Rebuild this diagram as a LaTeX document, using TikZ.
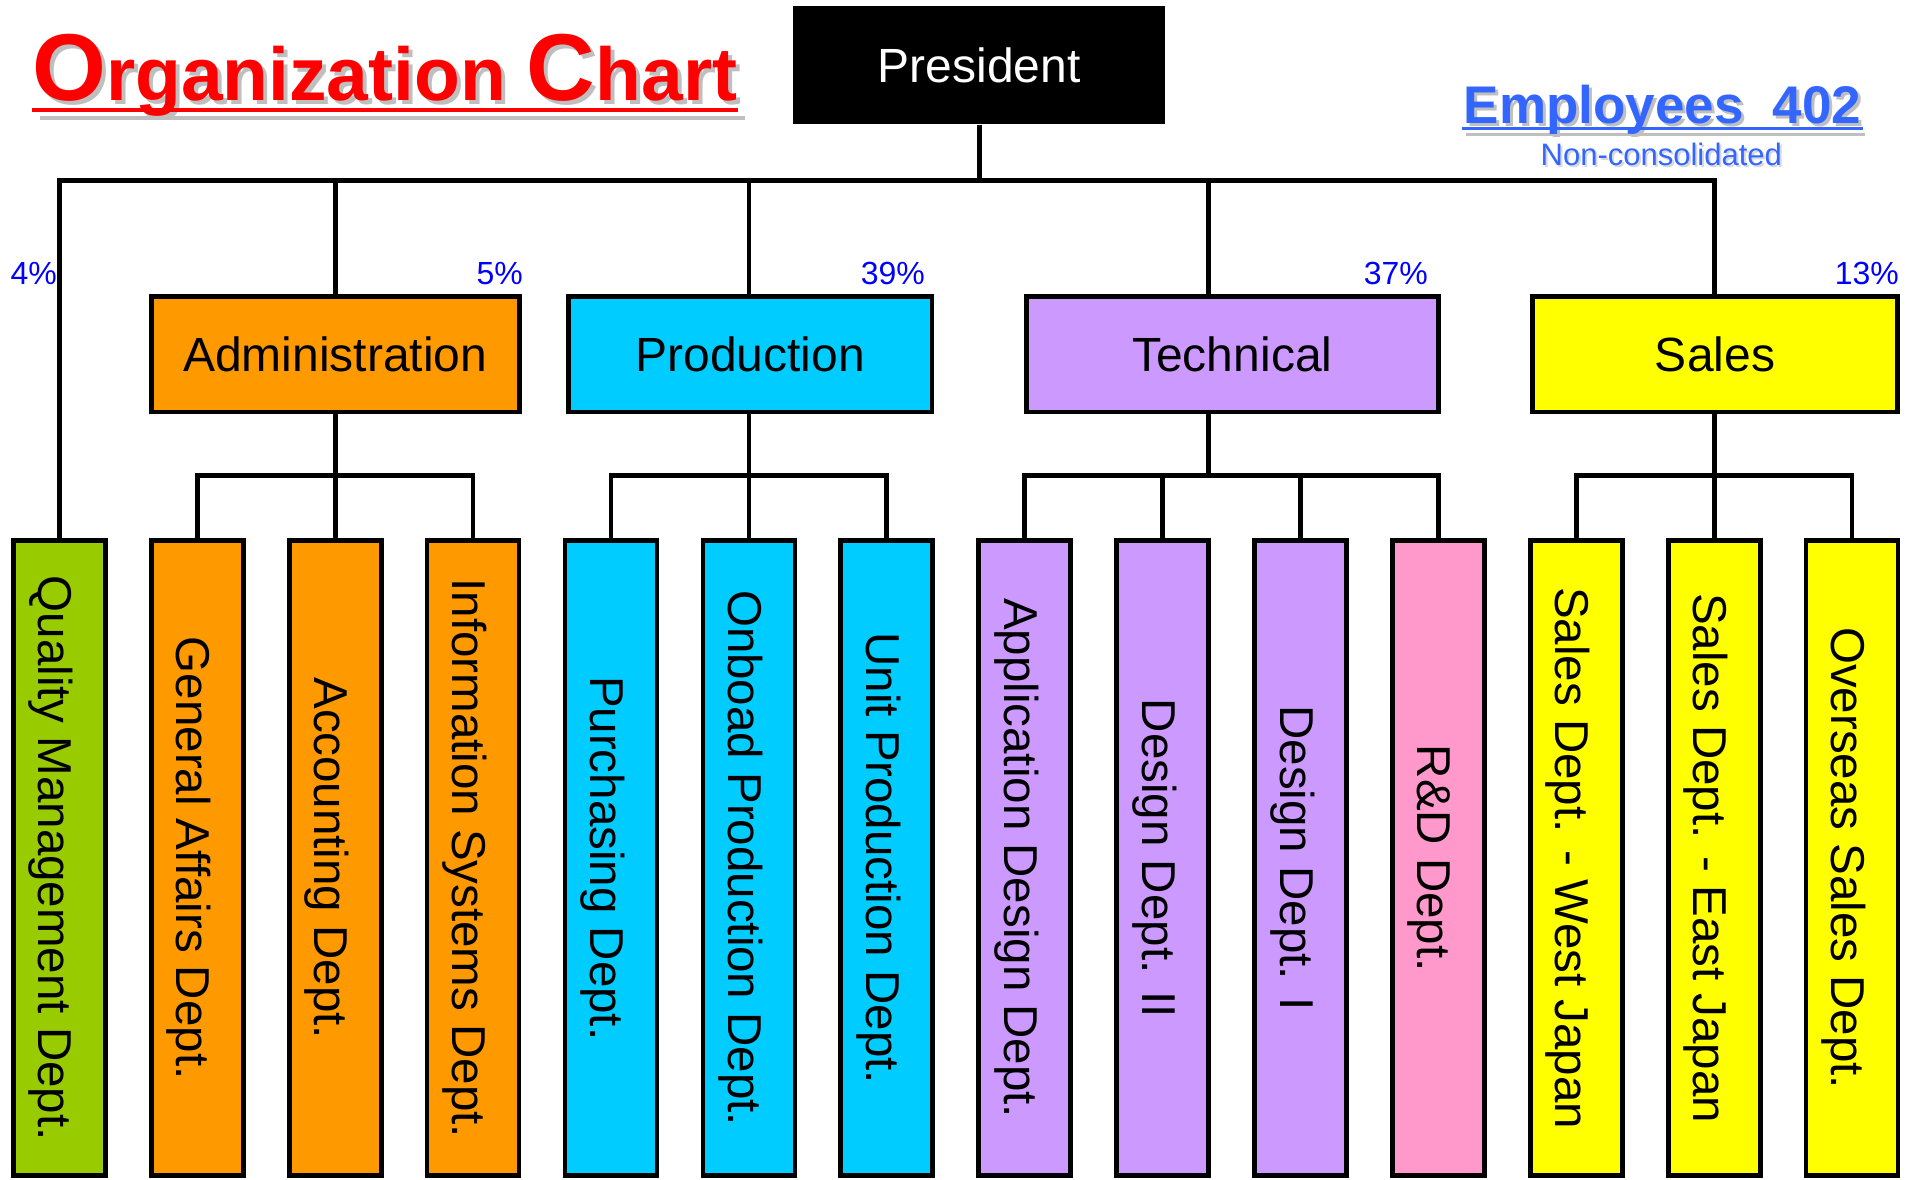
\documentclass[tikz,border=0pt]{standalone}
\usepackage{fontspec}
\setmainfont{Liberation Sans}
\definecolor{qgreen}{HTML}{99CC00}
\definecolor{orng}{HTML}{FF9900}
\definecolor{cyanb}{HTML}{00CCFF}
\definecolor{purp}{HTML}{CC99FF}
\definecolor{pinkb}{HTML}{FF99CC}
\definecolor{yel}{HTML}{FFFF00}
\definecolor{shgray}{HTML}{BFBFBF}
\definecolor{empblue}{HTML}{3366FF}
\definecolor{pctblue}{HTML}{0000FF}
\newcommand\tbig[1]{{\fontsize{95}{100}\selectfont #1}}
\begin{document}
\begin{tikzpicture}[x=1pt,y=-1pt,
  conn/.style={line width=4.7pt},
  lvlbox/.style={draw=black, line width=4.7pt, minimum height=115.3pt, inner sep=0pt, font=\fontsize{48}{56}\selectfont},
  childbox/.style={draw=black, line width=4.7pt, minimum width=92pt, minimum height=635pt, inner sep=0pt},
  ctext/.style={rotate=-90, anchor=base, inner sep=0pt, font=\fontsize{47.5}{50}\selectfont},
  pct/.style={anchor=base east, inner sep=0pt, text=pctblue, font=\fontsize{32}{36}\selectfont},
  titlefont/.style={anchor=base west, inner sep=0pt, font=\bfseries\fontsize{75}{80}\selectfont},
  empfont/.style={anchor=base, inner sep=0pt, font=\bfseries\fontsize{53}{60}\selectfont},
  ncfont/.style={anchor=base, inner sep=0pt, font=\fontsize{31}{36}\selectfont}
]
\useasboundingbox (0,0) rectangle (1921,1179);

% ---- title ----
\node[titlefont, text=shgray] (title-s) at (36,104) {\tbig{O}rganization \tbig{C}hart};
\draw[line width=4pt, shgray] ([shift={(3.5pt,-13.7pt)}]title-s.base west) -- ([shift={(3.5pt,-13.7pt)}]title-s.base east);
\node[titlefont, text=red] (title) at (32,100) {\tbig{O}rganization \tbig{C}hart};
\draw[line width=4pt, red] ([shift={(-0.5pt,-9.7pt)}]title.base west) -- ([shift={(0.5pt,-9.7pt)}]title.base east);

% ---- employees ----
\node[empfont, text=shgray] (emp-s) at (1665.5,126.3) {Employees\ \ 402};
\draw[line width=3.5pt, shgray] ([shift={(0pt,-8.4pt)}]emp-s.base west) -- ([shift={(0pt,-8.4pt)}]emp-s.base east);
\node[empfont, text=empblue] (emp) at (1662.5,123.3) {Employees\ \ 402};
\draw[line width=3.5pt, empblue] ([shift={(-1pt,-5.4pt)}]emp.base west) -- ([shift={(1pt,-5.4pt)}]emp.base east);
\node[ncfont, text=shgray!60] (nc-s) at (1663.3,167) {Non-consolidated};
\node[ncfont, text=empblue] (nc) at (1661.3,165) {Non-consolidated};

% ---- president ----
\node[fill=black, minimum width=371.7pt, minimum height=118.3pt, inner sep=0pt,
      text=white, font=\fontsize{48}{56}\selectfont] (pres) at (979.2,65.2) {President};

% ---- level 1 ----
\node[lvlbox, fill=orng,  minimum width=368pt]   (admin) at (335.2,354.3)  {Administration};
\node[lvlbox, fill=cyanb, minimum width=363.8pt] (prod)  at (750.2,354.3)  {Production};
\node[lvlbox, fill=purp,  minimum width=412pt]   (tech)  at (1232.3,354.3) {Technical};
\node[lvlbox, fill=yel,   minimum width=365.3pt] (sales) at (1715,354.3)   {Sales};

% ---- children ----
\node[childbox, fill=qgreen] (q)    at (59.4,858.2)   {};
\node[childbox, fill=orng]   (ga)   at (197.3,858.2)  {};
\node[childbox, fill=orng]   (acc)  at (335.2,858.2)  {};
\node[childbox, fill=orng]   (is)   at (473.1,858.2)  {};
\node[childbox, fill=cyanb]  (pu)   at (611.0,858.2)  {};
\node[childbox, fill=cyanb]  (ob)   at (748.9,858.2)  {};
\node[childbox, fill=cyanb]  (un)   at (886.8,858.2)  {};
\node[childbox, fill=purp]   (app)  at (1024.7,858.2) {};
\node[childbox, fill=purp]   (dtwo) at (1162.6,858.2) {};
\node[childbox, fill=purp]   (done) at (1300.5,858.2) {};
\node[childbox, fill=pinkb]  (rd)   at (1438.4,858.2) {};
\node[childbox, fill=yel]    (sw)   at (1576.3,858.2) {};
\node[childbox, fill=yel]    (se)   at (1714.2,858.2) {};
\node[childbox, fill=yel]    (os)   at (1852.1,858.2) {};

\node[ctext] (q-t)    at ([xshift=-20.5pt]q.center)    {Quality Management Dept.};
\node[ctext] (ga-t)   at ([xshift=-20.5pt]ga.center)   {General Affairs Dept.};
\node[ctext] (acc-t)  at ([xshift=-20.5pt]acc.center)  {Accounting Dept.};
\node[ctext] (is-t)   at ([xshift=-20.5pt]is.center)   {Information Systems Dept.};
\node[ctext] (pu-t)   at ([xshift=-20.5pt]pu.center)   {Purchasing Dept.};
\node[ctext] (ob-t)   at ([xshift=-20.5pt]ob.center)   {Onboad Production Dept.};
\node[ctext] (un-t)   at ([xshift=-20.5pt]un.center)   {Unit Production Dept.};
\node[ctext] (app-t)  at ([xshift=-20.5pt]app.center)  {Application Design Dept.};
\node[ctext] (dtwo-t) at ([xshift=-20.5pt]dtwo.center) {Design Dept. II};
\node[ctext] (done-t) at ([xshift=-20.5pt]done.center) {Design Dept. I};
\node[ctext] (rd-t)   at ([xshift=-20.5pt]rd.center)   {R\&D Dept.};
\node[ctext] (sw-t)   at ([xshift=-20.5pt]sw.center)   {Sales Dept. - West Japan};
\node[ctext] (se-t)   at ([xshift=-20.5pt]se.center)   {Sales Dept. - East Japan};
\node[ctext] (os-t)   at ([xshift=-20.5pt]os.center)   {Overseas Sales Dept.};

% ---- percentages ----
\node[pct] (p-q)     at (57,284.3)   {4\%};
\node[pct] (p-admin) at (523,284.3)  {5\%};
\node[pct] (p-prod)  at (925,284.3)  {39\%};
\node[pct] (p-tech)  at (1428,284.3) {37\%};
\node[pct] (p-sales) at (1899,284.3) {13\%};

% ---- connectors ----
\coordinate (bus) at (0,180.2);
\coordinate (sub) at (0,475.3);
\coordinate (td)  at (1208.7,180.2);

\draw[conn] (pres.south) -- (pres.south |- bus);
\draw[conn] (q.north) -- (q.north |- bus) -- (se.north |- bus) -- (se.north |- sales.north);
\draw[conn] (acc.north |- admin.north) -- (acc.north |- bus);
\draw[conn] (ob.north |- prod.north) -- (ob.north |- bus);
\draw[conn] (td |- tech.north) -- (td);

% admin group
\draw[conn] (ga.north) -- (ga.north |- sub) -- (is.north |- sub) -- (is.north);
\draw[conn] (acc.north |- admin.south) -- (acc.north);
% production group
\draw[conn] (pu.north) -- (pu.north |- sub) -- (un.north |- sub) -- (un.north);
\draw[conn] (ob.north |- prod.south) -- (ob.north);
% technical group
\draw[conn] (app.north) -- (app.north |- sub) -- (rd.north |- sub) -- (rd.north);
\draw[conn] (dtwo.north) -- (dtwo.north |- sub);
\draw[conn] (done.north) -- (done.north |- sub);
\draw[conn] (td |- tech.south) -- (td |- sub);
% sales group
\draw[conn] (sw.north) -- (sw.north |- sub) -- (os.north |- sub) -- (os.north);
\draw[conn] (se.north |- sales.south) -- (se.north);
\end{tikzpicture}
\end{document}
